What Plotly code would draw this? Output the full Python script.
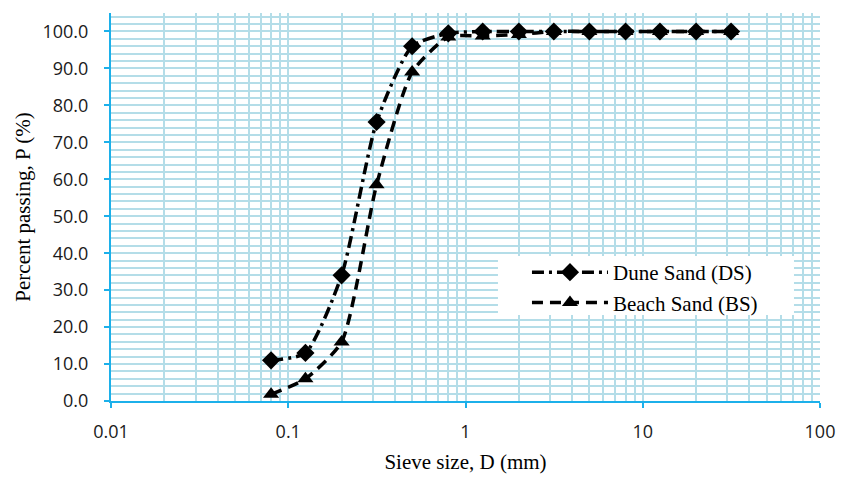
import plotly.graph_objects as go

sieve_mm = [0.08, 0.125, 0.2, 0.315, 0.5, 0.8, 1.25, 2, 3.15, 5, 8, 12.5, 20, 31.5]
dune_sand = [11.0, 13.0, 34.0, 75.5, 96.0, 99.5, 100.0, 100.0, 100.0, 100.0, 100.0, 100.0, 100.0, 100.0]
beach_sand = [1.8, 6.0, 16.0, 58.5, 89.0, 98.5, 98.8, 99.2, 100.0, 100.0, 100.0, 100.0, 100.0, 100.0]
x_ticks = [0.01, 0.1, 1, 10, 100]
x_tick_labels = ["0.01", "0.1", "1", "10", "100"]

grid_col = "#b4dde8"
axis_col = "#1cb0ea"

fig = go.Figure()
fig.add_trace(go.Scatter(
    x=sieve_mm, y=dune_sand, name="Dune Sand (DS)", mode="lines+markers",
    line=dict(color="black", width=3.5, dash="12px,5px,3px,5px", shape="spline", smoothing=0.6),
    marker=dict(symbol="diamond", size=14, color="black"),
))
fig.add_trace(go.Scatter(
    x=sieve_mm, y=beach_sand, name="Beach Sand (BS)", mode="lines+markers",
    line=dict(color="black", width=3.5, dash="11px,7px", shape="spline", smoothing=0.6),
    marker=dict(symbol="triangle-up", size=14, color="black"),
))

# white legend box
fig.add_shape(type="rect", xref="paper", yref="paper",
              x0=0.5458, x1=0.9633, y0=0.2216, y1=0.3737,
              fillcolor="white", line=dict(width=0), layer="above")

fig.update_layout(
    width=846, height=477,
    margin=dict(l=111, r=26, t=13, b=76),
    paper_bgcolor="white", plot_bgcolor="white",
    showlegend=True,
    legend=dict(
        x=0.5867, y=0.2925, xanchor="left", yanchor="middle",
        bgcolor="rgba(0,0,0,0)", borderwidth=0,
        font=dict(family="Liberation Serif", size=21, color="black"),
        itemwidth=76, tracegroupgap=0,
    ),
    xaxis=dict(
        type="log", range=[-2, 2], automargin=False,
        tickvals=x_ticks, ticktext=x_tick_labels,
        showgrid=True, gridcolor=grid_col, gridwidth=2,
        minor=dict(showgrid=True, gridcolor=grid_col, gridwidth=2, dtick="D1"),
        showline=True, linecolor=axis_col, linewidth=2,
        ticks="outside", ticklen=5, tickcolor=axis_col, tickwidth=2,
        ticklabelstandoff=8,
        tickfont=dict(family="Open Sans", size=18, color="#1a1a1a"),
        title=dict(text="Sieve size, D (mm)", font=dict(family="Liberation Serif", size=21, color="black"), standoff=13),
        zeroline=False,
    ),
    yaxis=dict(
        range=[0, 105], dtick=10, tick0=0, tickformat=".1f", automargin=False,
        showgrid=True, gridcolor=grid_col, gridwidth=2,
        minor=dict(showgrid=True, gridcolor=grid_col, gridwidth=2, dtick=2, tick0=0),
        showline=True, linecolor=axis_col, linewidth=2,
        ticks="outside", ticklen=5, tickcolor=axis_col, tickwidth=2,
        ticklabelstandoff=12,
        tickfont=dict(family="Open Sans", size=18, color="#1a1a1a"),
        title=dict(text="Percent passing, P (%)", font=dict(family="Liberation Serif", size=21, color="black"), standoff=6),
        zeroline=False,
    ),
)

fig.write_html("out.html")
